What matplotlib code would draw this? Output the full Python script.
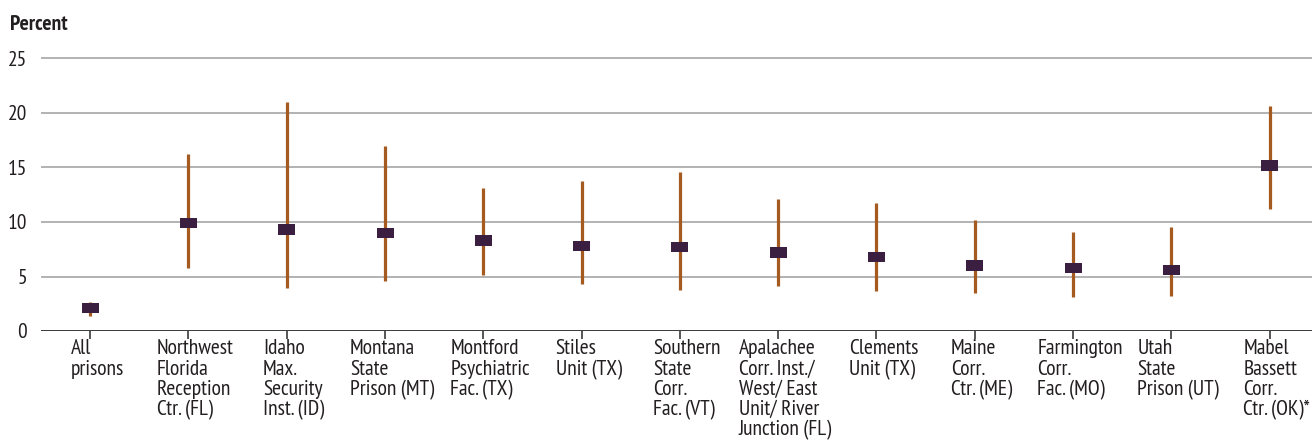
import matplotlib
matplotlib.use("Agg")
import matplotlib.pyplot as plt
from matplotlib import font_manager
from matplotlib.patches import Rectangle

categories = [
    "All\nprisons",
    "Northwest\nFlorida\nReception\nCtr. (FL)",
    "Idaho\nMax.\nSecurity\nInst. (ID)",
    "Montana\nState\nPrison (MT)",
    "Montford\nPsychiatric\nFac. (TX)",
    "Stiles\nUnit (TX)",
    "Southern\nState\nCorr.\nFac. (VT)",
    "Apalachee\nCorr. Inst./\nWest/ East\nUnit/ River\nJunction (FL)",
    "Clements\nUnit (TX)",
    "Maine\nCorr.\nCtr. (ME)",
    "Farmington\nCorr.\nFac. (MO)",
    "Utah\nState\nPrison (UT)",
    "Mabel\nBassett\nCorr.\nCtr. (OK)*",
]
estimate = [2.1, 9.9, 9.3, 9.0, 8.3, 7.8, 7.7, 7.2, 6.8, 6.0, 5.8, 5.6, 15.2]
lower = [1.4, 5.8, 3.9, 4.6, 5.1, 4.3, 3.8, 4.1, 3.7, 3.5, 3.1, 3.2, 11.2]
upper = [2.7, 16.2, 21.0, 17.0, 13.1, 13.8, 14.6, 12.1, 11.7, 10.2, 9.1, 9.5, 20.6]
yticks = [0, 5, 10, 15, 20, 25]

avail = set(f.name for f in font_manager.fontManager.ttflist)
fam = "DejaVu Sans"
for cand in ["PT Sans Narrow", "Roboto Condensed", "Fira Sans Condensed", "Archivo Narrow",
             "Asap Condensed", "Liberation Sans Narrow"]:
    if cand in avail:
        fam = cand
        break
plt.rcParams["font.family"] = [fam, "DejaVu Sans"]
FS = 15.5 if fam != "DejaVu Sans" else 10.5

W, H = 1312, 441
fig = plt.figure(figsize=(W / 100, H / 100), dpi=100)
y0_px = 331
ppu = 10.9
ymax = 26
left = 41 / W
ax = fig.add_axes([left, 1 - y0_px / H, 1 - left, ymax * ppu / H])

x = list(range(len(categories)))
err_col = "#a55a1f"
mk_col = "#3b1f40"
ax.vlines(x, lower, upper, color=err_col, lw=2.3, zorder=3)
bw = 17 / 98.3
bh = 10.5 / ppu
for xi, v in zip(x, estimate):
    ax.add_patch(Rectangle((xi - bw / 2, v - bh / 2), bw, bh, color=mk_col, zorder=5, lw=0))

ax.set_xlim(-0.5, (W - 90) / 98.3)
ax.set_ylim(0, ymax)
ax.set_yticks(yticks)
ax.set_yticklabels([str(t) for t in yticks], fontsize=FS, color="#231f20")
for t in yticks[1:]:
    ax.axhline(t, color="#a6a6a6", lw=1.2, zorder=1)
ax.axhline(0, color="#3a3a3a", lw=1.4, zorder=2)
for s in ax.spines.values():
    s.set_visible(False)
ax.tick_params(axis="y", length=0, pad=10)
ax.set_xticks(x)
ax.set_xticklabels([])
ax.tick_params(axis="x", length=6, width=1.2, color="#3a3a3a", direction="out")

for xi, lab in zip(x, categories):
    ax.annotate(lab, xy=(xi, 0), xycoords="data", xytext=(5, -6), textcoords="offset points",
                ha="center", va="top", multialignment="left", fontsize=FS,
                color="#231f20", linespacing=1.08, annotation_clip=False)

fig.text(10 / W, 1 - 24 / H, "Percent", fontsize=FS, fontweight="bold", color="#231f20",
         ha="left", va="center")

fig.savefig("out.png", dpi=100, facecolor="white")
